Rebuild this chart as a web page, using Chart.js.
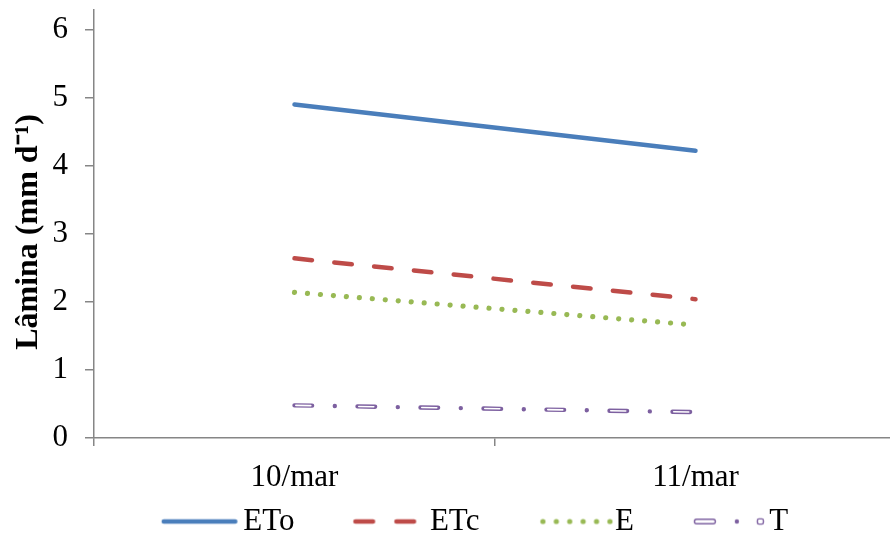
<!DOCTYPE html>
<html>
<head>
<meta charset="utf-8">
<script src="https://cdn.jsdelivr.net/npm/chart.js@4/dist/chart.umd.min.js"></script>
<style>
html,body{margin:0;padding:0;background:#fff;overflow:hidden;}
#wrap{width:890px;height:537px;position:relative;overflow:hidden;}
</style>
</head>
<body>
<div id="wrap"><canvas id="c" width="896" height="537"></canvas></div>
<script>
const categories = ['10/mar', '11/mar'];
const seriesNames = ['ETo', 'ETc', 'E', 'T'];
const eto = [4.90, 4.22];
const etc = [2.64, 2.04];
const e = [2.14, 1.66];
const t = [0.48, 0.38];
const yTicks = [0, 1, 2, 3, 4, 5, 6];

const BLUE = '#4A7EBB', RED = '#BE4B48', GREEN = '#98B954', PURPLE = '#7D60A0';
const FONT = "'Liberation Serif', 'Times New Roman', serif";
const FS = 31;

function legendImg(kind) {
  const cv = document.createElement('canvas');
  cv.width = 140; cv.height = 16;
  const g = cv.getContext('2d');
  const y = 8;
  g.lineCap = 'round';
  if (kind === 0) {
    g.strokeStyle = BLUE; g.lineWidth = 4.5;
    g.beginPath(); g.moveTo(61, y); g.lineTo(132.5, y); g.stroke();
  } else if (kind === 1) {
    g.strokeStyle = RED; g.lineWidth = 4.5;
    g.beginPath(); g.moveTo(66, y); g.lineTo(83.6, y); g.moveTo(107, y); g.lineTo(124.6, y); g.stroke();
  } else if (kind === 2) {
    g.fillStyle = GREEN;
    for (let i = 0; i < 6; i++) { g.beginPath(); g.arc(68.5 + i * 13.4, y, 2.6, 0, Math.PI * 2); g.fill(); }
  } else {
    g.strokeStyle = PURPLE; g.lineWidth = 1.4;
    g.beginPath(); g.roundRect(65.5, y - 2.3, 21, 4.6, 2.3); g.stroke();
    g.fillStyle = PURPLE;
    g.beginPath(); g.arc(108, y, 2.2, 0, Math.PI * 2); g.fill();
    g.beginPath(); g.roundRect(128.5, y - 2.6, 6, 5.2, 1.5); g.stroke();
  }
  return cv;
}
const legendImgs = [0, 1, 2, 3].map(legendImg);

const data = {
  labels: categories,
  datasets: [
    { label: seriesNames[0], data: eto, borderColor: BLUE, borderWidth: 4.5, borderCapStyle: 'round', pointRadius: 0, order: 1 },
    { label: seriesNames[1], data: etc, borderColor: RED, borderWidth: 4.5, borderCapStyle: 'round', borderDash: [17.6, 22.4], pointRadius: 0, order: 2 },
    { label: seriesNames[2], data: e, borderColor: GREEN, borderWidth: 5.2, borderCapStyle: 'round', borderDash: [0.01, 13], pointRadius: 0, order: 3 },
    { label: seriesNames[3], data: t, borderColor: PURPLE, borderWidth: 4.4, borderCapStyle: 'round', borderDash: [17.6, 22.7, 0.01, 22.7], pointRadius: 0, order: 4 },
    { label: '_inner', data: t, borderColor: '#ffffff', borderWidth: 1.6, borderCapStyle: 'round', borderDash: [15, 48], borderDashOffset: 61.7, pointRadius: 0, order: 0 }
  ]
};

new Chart(document.getElementById('c'), {
  type: 'line',
  data: data,
  options: {
    responsive: false,
    animation: false,
    layout: { padding: { top: 10, right: 0, left: 10, bottom: 0 } },
    plugins: {
      tooltip: { enabled: false },
      legend: {
        position: 'bottom',
        maxHeight: 41,
        labels: {
          usePointStyle: true,
          pointStyleWidth: 110,
          padding: 10,
          color: '#000',
          font: { family: FONT, size: FS },
          generateLabels: function (chart) {
            return chart.data.datasets.slice(0, 4).map((ds, i) => ({
              text: ds.label,
              pointStyle: legendImgs[i],
              fillStyle: 'transparent',
              strokeStyle: 'transparent',
              lineWidth: 0,
              datasetIndex: i,
              fontColor: '#000'
            }));
          }
        }
      }
    },
    scales: {
      x: {
        offset: true,
        grid: { offset: true, drawOnChartArea: false, drawTicks: true, tickLength: 8, color: '#868686', lineWidth: 1.5 },
        border: { display: true, color: '#868686', width: 1.5 },
        ticks: { color: '#000', font: { family: FONT, size: FS }, padding: 13, maxRotation: 0 },
        afterFit: function (s) { s.height = 58; s.paddingLeft = 0; s.paddingRight = 0; }
      },
      y: {
        min: 0,
        max: 6.29,
        afterBuildTicks: function (s) { s.ticks = yTicks.map(v => ({ value: v })); },
        grid: { drawOnChartArea: false, drawTicks: true, tickLength: 9, color: '#868686', lineWidth: 1.5 },
        border: { display: true, color: '#868686', width: 1.5 },
        ticks: { color: '#000', font: { family: FONT, size: FS }, padding: 17 },
        title: {
          display: true,
          text: 'Lâmina (mm d⁻¹)  ',
          color: '#000',
          font: { family: FONT, size: 32, weight: 'bold' },
          padding: { top: 0, bottom: 0 }
        },
        afterFit: function (s) { s.width = 84; s.paddingTop = 0; s.paddingBottom = 0; }
      }
    }
  }
});
</script>
</body>
</html>
